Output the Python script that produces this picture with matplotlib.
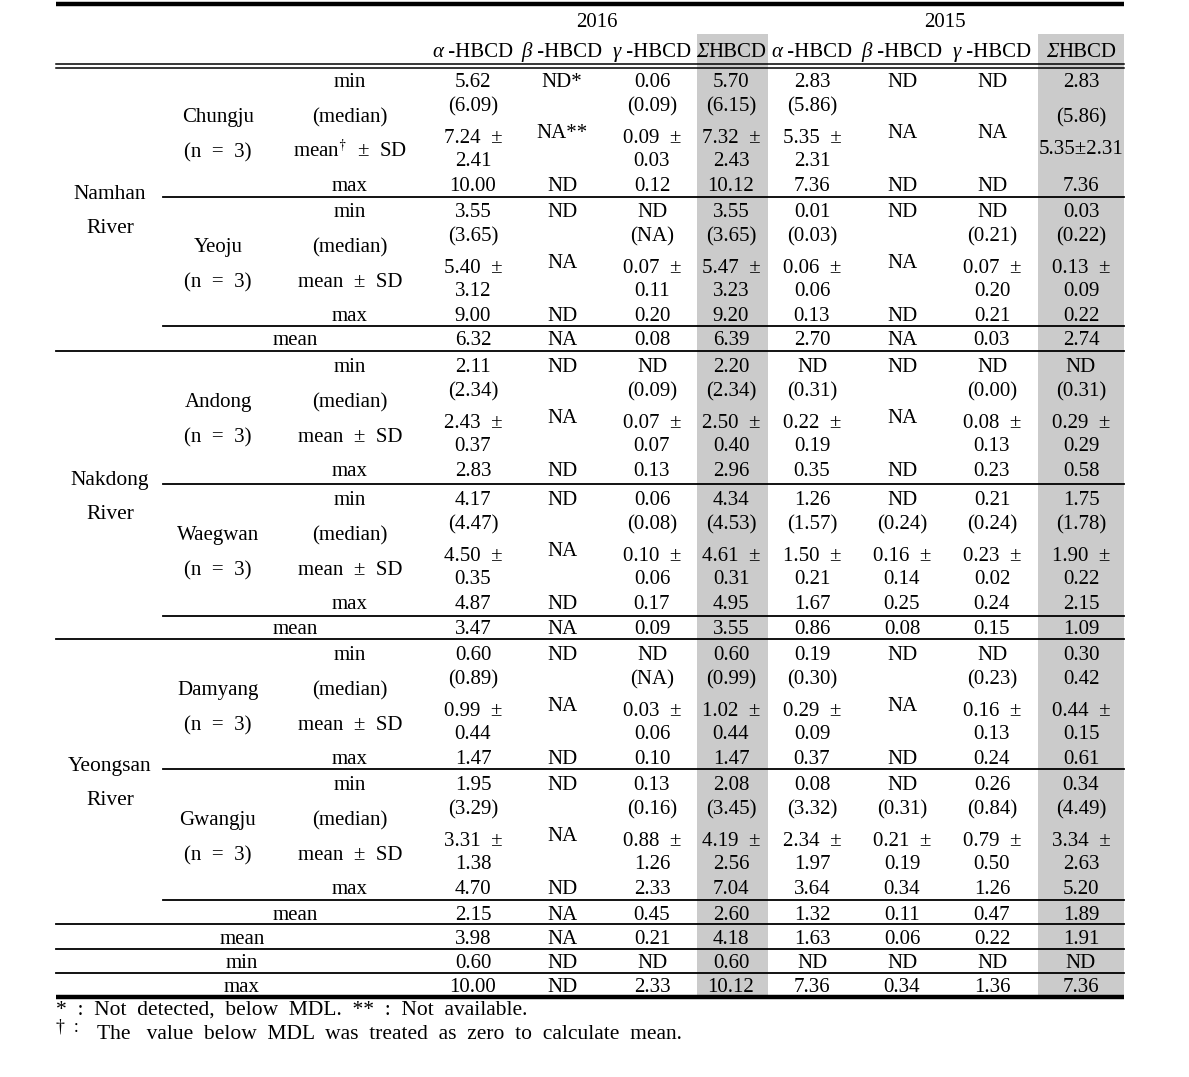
import matplotlib
matplotlib.use("Agg")
import matplotlib.pyplot as plt

plt.rcParams['font.family'] = ['Liberation Serif', 'DejaVu Serif']
plt.rcParams['mathtext.fontset'] = 'stix'

# ---- table content ----
years = ['2016', '2015']
compounds = [('\u03b1', ' -HBCD'), ('\u03b2', ' -HBCD'), ('\u03b3', ' -HBCD'), ('\u03a3', 'HBCD')]
rivers = [('Namhan', 'River'), ('Nakdong', 'River'), ('Yeongsan', 'River')]
sites = ['Chungju', 'Yeoju', 'Andong', 'Waegwan', 'Damyang', 'Gwangju']
stat_labels = ['min', '(median)', 'mean$^{\\dagger}$  \u00b1  SD', 'max']
stat_labels_plain = ['min', '(median)', 'mean  \u00b1  SD', 'max']

# rows: min, (median), mean, SD, max ; columns: a16 b16 g16 S16 a15 b15 g15 S15
chungju = [['5.62', 'ND*', '0.06', '5.70', '2.83', 'ND', 'ND', '2.83'],
           ['(6.09)', '', '(0.09)', '(6.15)', '(5.86)', '', '', '(5.86)'],
           ['7.24', 'NA**', '0.09', '7.32', '5.35', 'NA', 'NA', '5.35\u00b12.31'],
           ['2.41', '', '0.03', '2.43', '2.31', '', '', ''],
           ['10.00', 'ND', '0.12', '10.12', '7.36', 'ND', 'ND', '7.36']]
yeoju = [['3.55', 'ND', 'ND', '3.55', '0.01', 'ND', 'ND', '0.03'],
         ['(3.65)', '', '(NA)', '(3.65)', '(0.03)', '', '(0.21)', '(0.22)'],
         ['5.40', 'NA', '0.07', '5.47', '0.06', 'NA', '0.07', '0.13'],
         ['3.12', '', '0.11', '3.23', '0.06', '', '0.20', '0.09'],
         ['9.00', 'ND', '0.20', '9.20', '0.13', 'ND', '0.21', '0.22']]
andong = [['2.11', 'ND', 'ND', '2.20', 'ND', 'ND', 'ND', 'ND'],
          ['(2.34)', '', '(0.09)', '(2.34)', '(0.31)', '', '(0.00)', '(0.31)'],
          ['2.43', 'NA', '0.07', '2.50', '0.22', 'NA', '0.08', '0.29'],
          ['0.37', '', '0.07', '0.40', '0.19', '', '0.13', '0.29'],
          ['2.83', 'ND', '0.13', '2.96', '0.35', 'ND', '0.23', '0.58']]
waegwan = [['4.17', 'ND', '0.06', '4.34', '1.26', 'ND', '0.21', '1.75'],
           ['(4.47)', '', '(0.08)', '(4.53)', '(1.57)', '(0.24)', '(0.24)', '(1.78)'],
           ['4.50', 'NA', '0.10', '4.61', '1.50', '0.16', '0.23', '1.90'],
           ['0.35', '', '0.06', '0.31', '0.21', '0.14', '0.02', '0.22'],
           ['4.87', 'ND', '0.17', '4.95', '1.67', '0.25', '0.24', '2.15']]
damyang = [['0.60', 'ND', 'ND', '0.60', '0.19', 'ND', 'ND', '0.30'],
           ['(0.89)', '', '(NA)', '(0.99)', '(0.30)', '', '(0.23)', '0.42'],
           ['0.99', 'NA', '0.03', '1.02', '0.29', 'NA', '0.16', '0.44'],
           ['0.44', '', '0.06', '0.44', '0.09', '', '0.13', '0.15'],
           ['1.47', 'ND', '0.10', '1.47', '0.37', 'ND', '0.24', '0.61']]
gwangju = [['1.95', 'ND', '0.13', '2.08', '0.08', 'ND', '0.26', '0.34'],
           ['(3.29)', '', '(0.16)', '(3.45)', '(3.32)', '(0.31)', '(0.84)', '(4.49)'],
           ['3.31', 'NA', '0.88', '4.19', '2.34', '0.21', '0.79', '3.34'],
           ['1.38', '', '1.26', '2.56', '1.97', '0.19', '0.50', '2.63'],
           ['4.70', 'ND', '2.33', '7.04', '3.64', '0.34', '1.26', '5.20']]
river_means = [['6.32', 'NA', '0.08', '6.39', '2.70', 'NA', '0.03', '2.74'],
               ['3.47', 'NA', '0.09', '3.55', '0.86', '0.08', '0.15', '1.09'],
               ['2.15', 'NA', '0.45', '2.60', '1.32', '0.11', '0.47', '1.89']]
total_labels = ['mean', 'min', 'max']
total_rows = [['3.98', 'NA', '0.21', '4.18', '1.63', '0.06', '0.22', '1.91'],
              ['0.60', 'ND', 'ND', '0.60', 'ND', 'ND', 'ND', 'ND'],
              ['10.00', 'ND', '2.33', '10.12', '7.36', '0.34', '1.36', '7.36']]
notes = ['*  :  Not  detected,  below  MDL.  **  :  Not  available.',
         'The   value  below  MDL  was  treated  as  zero  to  calculate  mean.']

site_data = [chungju, yeoju, andong, waegwan, damyang, gwangju]

# ---- layout (pixels) ----
W, H = 1189, 1077
fig = plt.figure(figsize=(W / 100, H / 100), dpi=100)
ax = fig.add_axes([0, 0, 1, 1])
ax.set_xlim(0, W)
ax.set_ylim(H, 0)
ax.axis('off')
renderer = fig.canvas.get_renderer()

FS = 15
col_x = [473, 562, 652, 731, 812, 902, 992, 1081]
left, right, inner = 56, 1124, 163
block_top = [80, 210, 365, 498, 653, 783]
row_off = [0, 24, 56, 79, 104]
mean_y = [338, 627, 913]
total_y = [937, 961, 985]
river_y = [192, 478, 764]


def put(x, y, s, size=FS, ha='center'):
    # y is the visual centre of the digits
    return ax.text(x, y + 7, s, fontsize=size, ha=ha, va='baseline', color='black')


# shaded sum columns
for x0, x1 in [(697, 768), (1038, 1124)]:
    ax.fill_between([x0, x1], 34, 997, color='#cbcbcb', lw=0, zorder=0)

# rules
ax.plot([left, right], [4, 4], color='black', lw=3.2, solid_capstyle='butt')
ax.plot([left, right], [997, 997], color='black', lw=3.2, solid_capstyle='butt')
for y in (64, 68):
    ax.plot([left, right], [y, y], color='black', lw=1.1)
for y, x0 in [(197, inner), (326, inner), (351, left), (484, inner), (616, inner),
              (639, left), (769, inner), (900, inner), (924, left), (949, left), (973, left)]:
    ax.plot([x0, right], [y, y], color='black', lw=1.3)

# header
put(597, 20, years[0])
put(945, 20, years[1])
for i, (greek, rest) in enumerate(compounds * 2):
    t1 = put(0, 50, greek, ha='left')
    t1.set_fontstyle('italic')
    t2 = put(0, 50, rest, ha='left')
    w1 = t1.get_window_extent(renderer).width
    w2 = t2.get_window_extent(renderer).width
    x0 = col_x[i] - (w1 + w2) / 2
    t1.set_x(x0)
    t2.set_x(x0 + w1)

# river names
for (a, b), y in zip(rivers, river_y):
    put(110, y, a, size=FS + 0.5)
    put(110, y + 34, b, size=FS + 0.5)

# site blocks
for k, (name, rows, y0) in enumerate(zip(sites, site_data, block_top)):
    put(218, y0 + 35, name)
    put(218, y0 + 70, '(n  =  3)')
    labels = stat_labels if k == 0 else stat_labels_plain
    put(350, y0, labels[0])
    put(350, y0 + 35, labels[1])
    put(350, y0 + 70, labels[2])
    put(350, y0 + row_off[4], labels[3])
    for j, x in enumerate(col_x):
        vals = [r[j] for r in rows]
        put(x, y0, vals[0])
        put(x, y0 + row_off[4], vals[4])
        if vals[3] == '' and vals[2] != '':
            if '\u00b1' in vals[2]:
                # single-line mean ± SD cell
                put(x, y0 + 35, vals[1])
                put(x, y0 + 67, vals[2])
            else:
                put(x, y0 + 51, vals[2])
            continue
        put(x, y0 + row_off[1], vals[1])
        put(x, y0 + row_off[2], vals[2] + '  \u00b1')
        put(x, y0 + row_off[3], vals[3])

# river means
for y, vals in zip(mean_y, river_means):
    put(295, y, 'mean')
    for x, v in zip(col_x, vals):
        put(x, y, v)

# overall rows
for y, lab, vals in zip(total_y, total_labels, total_rows):
    put(242, y, lab)
    for x, v in zip(col_x, vals):
        put(x, y, v)

# footnotes
ax.text(56, 1015, notes[0], fontsize=FS + 0.5, ha='left', va='baseline')
ax.text(56, 1031, '\u2020  :', fontsize=FS - 2, ha='left', va='baseline')
ax.text(97, 1039, notes[1], fontsize=FS + 0.5, ha='left', va='baseline')

fig.savefig('out.png', dpi=100)
